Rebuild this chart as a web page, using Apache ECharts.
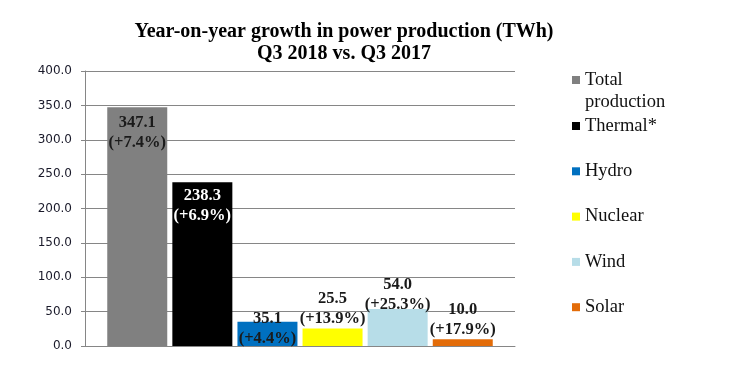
<!DOCTYPE html>
<html><head><meta charset="utf-8">
<script src="https://cdn.jsdelivr.net/npm/echarts@6/dist/echarts.min.js"></script>
<style>html,body{margin:0;padding:0;background:#fff}#c{width:730px;height:365px}</style>
</head><body><div id="c"></div>
<script>
var seriesNames = ['Total production', 'Thermal*', 'Hydro', 'Nuclear', 'Wind', 'Solar'];
var values = [347.1, 238.3, 35.1, 25.5, 54.0, 10.0];
var growth = ['+7.4%', '+6.9%', '+4.4%', '+13.9%', '+25.3%', '+17.9%'];
var yTicks = [0, 50, 100, 150, 200, 250, 300, 350, 400];

var colors = ['#808080', '#000000', '#0070C0', '#FFFF00', '#B7DDE8', '#E36C09'];
var labelColors = ['#1a1a1a', '#ffffff', '#1a1a1a', '#1a1a1a', '#1a1a1a', '#1a1a1a'];
var labelPos = ['insideTop', 'insideTop', 'top', 'top', 'top', 'top'];
var labelDist = [5, 4, -27, 0, -6, -1];

var chart = echarts.init(document.getElementById('c'));
var series = seriesNames.map(function (n, i) {
  return {
    type: 'bar', name: n, data: [values[i]],
    barWidth: 60, barGap: '8.5%',
    itemStyle: { color: colors[i] },
    label: {
      show: true, position: labelPos[i], distance: labelDist[i],
      color: labelColors[i], fontFamily: 'Liberation Serif', fontWeight: 'bold', fontSize: 16.5, lineHeight: 20,
      formatter: (function (k) { return function (p) { return p.value.toFixed(1) + '\n(' + growth[k] + ')'; }; })(i)
    }
  };
});
chart.setOption({
  animation: false,
  title: {
    text: 'Year-on-year growth in power production (TWh)\nQ3 2018 vs. Q3 2017',
    left: 344, top: 21, padding: 0, textAlign: 'center',
    textStyle: { fontFamily: 'Liberation Serif', fontWeight: 'bold', fontSize: 20, lineHeight: 22, color: '#000' }
  },
  legend: [{
    data: [seriesNames[0]], orient: 'vertical', left: 572, top: 47, padding: 0,
    icon: 'rect', itemWidth: 8, itemHeight: 8,
    formatter: function (n) { return ' \n' + n.replace(' ', '\n'); },
    textStyle: { fontFamily: 'Liberation Serif', fontSize: 18.5, lineHeight: 22, color: '#111' }
  }, {
    data: seriesNames.slice(1), orient: 'vertical', left: 572, top: 115, padding: 0, itemGap: 23.3,
    icon: 'rect', itemWidth: 8, itemHeight: 8,
    textStyle: { fontFamily: 'Liberation Serif', fontSize: 18.5, lineHeight: 22, color: '#111' }
  }],
  grid: { left: 85, right: 215, top: 71, bottom: 19 },
  xAxis: {
    type: 'category', data: [''],
    axisLine: { show: true, lineStyle: { color: '#868686' } },
    axisTick: { show: false }, axisLabel: { show: false }
  },
  yAxis: {
    type: 'value', min: yTicks[0], max: yTicks[yTicks.length - 1], interval: 50,
    axisLine: { show: true, lineStyle: { color: '#868686' } },
    axisTick: { show: true, length: 4, lineStyle: { color: '#868686' } },
    splitLine: { lineStyle: { color: '#868686' } },
    axisLabel: { margin: 13, fontFamily: 'DejaVu Sans', fontSize: 12, color: '#1a1a2a',
      formatter: function (v) { return v.toFixed(1); } }
  },
  series: series
});
</script></body></html>
